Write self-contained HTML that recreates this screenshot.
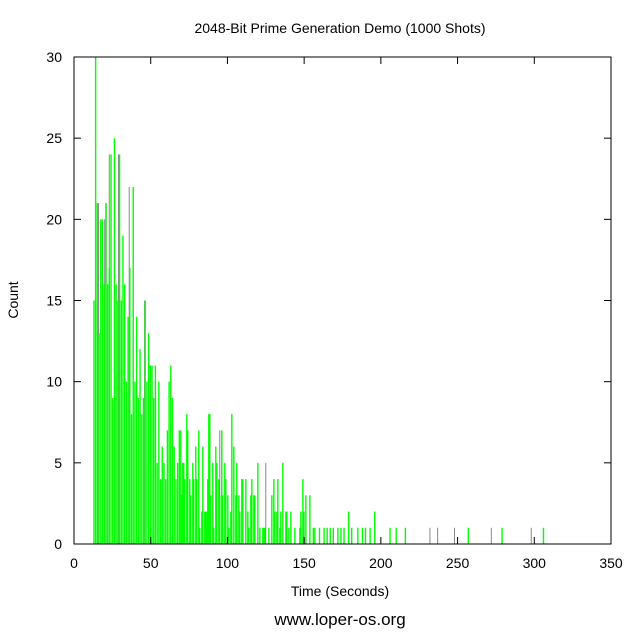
<!DOCTYPE html>
<html><head><meta charset="utf-8"><style>
body{margin:0;background:#fff}
svg{display:block;font-family:"Liberation Sans",sans-serif}
</style></head><body>
<svg id="chart" width="640" height="640" viewBox="0 0 640 640">
<rect width="640" height="640" fill="#fff"/>
<text x="340" y="33" font-size="14" text-anchor="middle">2048-Bit Prime Generation Demo (1000 Shots)</text>
<g id="gray"></g>
<g id="green"></g>
<rect x="74" y="57" width="537" height="487" fill="none" stroke="#000" stroke-width="1"/>
<g id="axes"></g>
<text transform="translate(18,300) rotate(-90)" font-size="14" text-anchor="middle">Count</text>
<text x="340" y="596" font-size="14" text-anchor="middle">Time (Seconds)</text>
<text x="340" y="625" font-size="17" text-anchor="middle">www.loper-os.org</text>
</svg>
<script>
const greenCounts1 = [15,30,21,13,20,20,16,21,16,17,24,9,25,16,15,24,15,19,16,10,14,17,8,22,10,14,9,12,8,9,15,10,13,11,11,9,11,5,10,4,6,5,4,7,10,11,9,6,4,5,7,3,5];
const zoomOffsets2 = [0,3,9,12,18,21,27,30,36,39,45,48,54,57,63,66,72,75,78,81,84,87,90,96,99,105,108,114,117,123,126,132,135,141,144,150,153,159,165,168,174,177,183,186,195,201,204,210,213,219,222,231,237,246,249,252,264,273,279,282,288,291,297,300,306,315,318,324,330,342,357,360,366,369,375,387];
const greenCounts2 = [7,3,5,4,8,7,4,3,5,4,6,4,7,1,2,6,2,2,2,4,8,8,3,5,1,6,5,4,3,7,3,5,4,3,1,2,8,6,3,5,3,2,4,4,4,2,1,3,4,3,3,5,1,1,1,1,1,3,4,2,2,4,1,2,5,2,2,1,2,1,1,2,4,2,3,3];
const tailTimes = [156,157,160,163,165,167,169,172,174,176,179,181,185,188,190,193,196,206,210,216,257,279,306];
const tailCounts = [1,1,1,1,1,1,1,1,1,1,2,1,1,1,1,1,2,1,1,1,1,1,1];
const grayTimes = [14,16,20,21,23,29,36,46,63,95,103,125,150,232,237,248,272,298];
const grayCounts = [30,21,20,21,24,24,22,15,10,7,8,5,2,1,1,1,1,1];
const xTicks = [0,50,100,150,200,250,300,350];
const yTicks = [0,5,10,15,20,25,30];

const X = t => 74 + t * 537 / 350;
const Y = c => 544 - c * 487 / 30;
const NS = 'http://www.w3.org/2000/svg';
function mk(tag, attrs, parent){const e=document.createElementNS(NS,tag);for(const k in attrs)e.setAttribute(k,attrs[k]);parent.appendChild(e);return e;}

const greenTimes = [];
const greenCounts = [];
greenCounts1.forEach((c,i)=>{greenTimes.push(13+i*59/greenCounts1.length);greenCounts.push(c);});
zoomOffsets2.forEach((o,i)=>{greenTimes.push(69.6+o/4.6);greenCounts.push(greenCounts2[i]);});
tailTimes.forEach((t,i)=>{greenTimes.push(t);greenCounts.push(tailCounts[i]);});

const gG=document.getElementById('gray');
grayTimes.forEach((t,i)=>{
  const l=mk('line',{x1:X(t),x2:X(t),y1:544,y2:Y(grayCounts[i]),stroke:'#888','stroke-width':1},gG);
  
  
});
const gN=document.getElementById('green');
greenTimes.forEach((t,i)=>{
  const r=mk('rect',{x:X(t)-0.7,y:Y(greenCounts[i]),width:1.4,height:544-Y(greenCounts[i]),fill:'#00ff00'},gN);
  
  
});
const ax=document.getElementById('axes');
xTicks.forEach(v=>{
  const x=X(v);
  mk('line',{x1:x,x2:x,y1:544,y2:537,stroke:'#000'},ax);
  mk('line',{x1:x,x2:x,y1:57,y2:64,stroke:'#000'},ax);
  const t=mk('text',{x:x,y:568,'font-size':14,'text-anchor':'middle'},ax);
  t.textContent=v;
  
  
});
yTicks.forEach(v=>{
  const y=Y(v);
  mk('line',{x1:74,x2:81,y1:y,y2:y,stroke:'#000'},ax);
  mk('line',{x1:611,x2:604,y1:y,y2:y,stroke:'#000'},ax);
  const t=mk('text',{x:62,y:y+5,'font-size':14,'text-anchor':'end'},ax);
  t.textContent=v;
  
  
});
</script>
</body></html>
